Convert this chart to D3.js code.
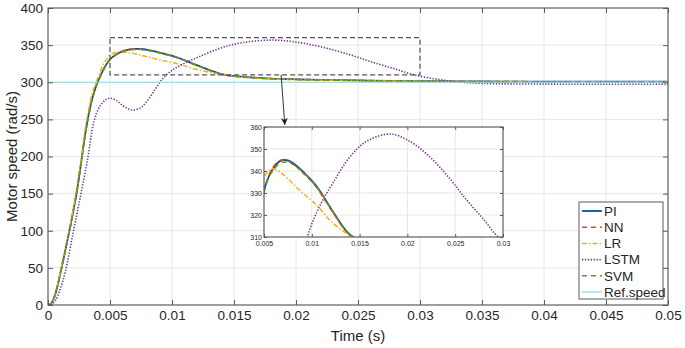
<!DOCTYPE html>
<html>
<head>
<meta charset="utf-8">
<script src="https://cdn.jsdelivr.net/npm/d3@7"></script>
<style>
    body { margin: 0; background: #fff; }
    text { font-family: "Liberation Sans", Arial, Helvetica, sans-serif; fill: #262626; }
</style>
</head>
<body>
<div id="chart"></div>
<script>
// time samples (s) shared by PI, NN, LR and SVM
var tFast = [0, 0.0002, 0.0004, 0.0006, 0.0008, 0.001, 0.0013, 0.0016, 0.0018, 0.002, 0.0023, 0.0025,
    0.0027, 0.003, 0.0033, 0.0036, 0.004, 0.0045, 0.005, 0.0055, 0.006, 0.0065, 0.007, 0.0075, 0.008,
    0.009, 0.0105, 0.012, 0.014, 0.016, 0.018, 0.02, 0.025, 0.03, 0.035, 0.04, 0.05];
var speedPI = [0, 1, 6, 15, 28, 43, 66, 90, 106, 123, 150, 172, 195, 230, 258, 280, 300, 318, 331,
    337.5, 341.5, 344, 345, 344.8, 343.7, 340, 333, 323, 311, 307, 305, 304, 302.5, 301.5, 301, 300.8, 300.7];
var speedNN = [0, 1, 6, 15, 28, 43, 66, 90, 106, 123, 150, 172, 195, 230, 258, 280, 300, 318, 331,
    338, 342, 344.5, 345, 344.5, 343.3, 339.5, 332.5, 322.5, 310.8, 307, 305, 304, 302.5, 301.5, 301, 300.8, 300.7];
var speedLR = [0, 1, 6, 16, 29, 45, 68, 92, 109, 126, 155, 177, 200, 237, 265, 287, 305, 325, 336.7,
    340.3, 341, 340, 338.5, 336.5, 334.3, 330.2, 324.5, 317.2, 310.5, 306.3, 304.3, 303.4, 302.2, 301.5, 301, 300.8, 300.7];
var speedSVM = [0, 1, 6, 15, 28, 43, 66, 90, 106, 123, 150, 172, 195, 230, 257, 279, 299, 317, 330,
    337, 340.5, 343, 344, 344, 343, 339.8, 332.8, 322.8, 310.8, 306.8, 304.8, 303.8, 302.4, 301.4, 301, 300.8, 300.7];

// LSTM has its own samples
var tLstm = [0, 0.0003, 0.0006, 0.001, 0.0014, 0.002, 0.0026, 0.0032, 0.0037, 0.0042, 0.0047, 0.0051,
    0.0056, 0.006, 0.0065, 0.0069, 0.0075, 0.008, 0.0087, 0.0093, 0.01, 0.011, 0.0122, 0.014, 0.0157,
    0.0182, 0.0202, 0.0223, 0.0244, 0.0262, 0.0279, 0.0295, 0.0316, 0.0327, 0.035, 0.04, 0.045, 0.05];
var speedLSTM = [0, 1, 6, 22, 45, 95, 145, 197, 247, 268, 277, 278.4, 274.5, 269, 264, 262.5, 266, 275,
    292, 306, 316, 325.5, 334.5, 346.5, 353.4, 356.8, 353.6, 346.6, 336.7, 326.8, 318.4, 310, 303.5, 301,
    298.5, 297.5, 297.3, 297.2];

// reference speed
var tRef = [0, 0.05];
var speedRef = [300, 300];

var seriesNames = ["PI", "NN", "LR", "LSTM", "SVM", "Ref.speed"];

// tick labels
var xTicks = [0, 0.005, 0.01, 0.015, 0.02, 0.025, 0.03, 0.035, 0.04, 0.045, 0.05];
var yTicks = [0, 50, 100, 150, 200, 250, 300, 350, 400];
var xTicksInset = [0.005, 0.01, 0.015, 0.02, 0.025, 0.03];
var yTicksInset = [310, 320, 330, 340, 350, 360];

// zoom window shown in the inset
var zoomX = [0.005, 0.03];
var zoomY = [310, 360];

function pairs(t, v) {
    return t.map(function (d, i) { return [d, v[i]]; });
}

var series = [
    { name: seriesNames[0], pts: pairs(tFast, speedPI), color: "#0b4ea2", dash: null, w: 1.8 },
    { name: seriesNames[1], pts: pairs(tFast, speedNN), color: "#d95319", dash: "5,4", w: 1.5 },
    { name: seriesNames[2], pts: pairs(tFast, speedLR), color: "#edb120", dash: "5,2,1.5,2", w: 1.5 },
    { name: seriesNames[3], pts: pairs(tLstm, speedLSTM), color: "#72308a", dash: "1.3,1.6", w: 1.6 },
    { name: seriesNames[4], pts: pairs(tFast, speedSVM), color: "#5e9e1c", dash: "5,4", w: 1.5 },
    { name: seriesNames[5], pts: pairs(tRef, speedRef), color: "#8fdbe3", dash: null, w: 1.2 }
];

var W = 685, H = 348;
var margin = { top: 8, right: 17, bottom: 43, left: 48 };

var svg = d3.select("#chart").append("svg")
    .attr("width", W)
    .attr("height", H);

var x = d3.scaleLinear().domain([0, 0.05]).range([margin.left, W - margin.right]);
var y = d3.scaleLinear().domain([0, 400]).range([H - margin.bottom, margin.top]);

function drawPanel(g, xs, ys, xt, yt, tick, font, padX, padY, clipId) {
    var x0 = xs.range()[0], x1 = xs.range()[1];
    var y0 = ys.range()[0], y1 = ys.range()[1];

    g.append("rect")
        .attr("x", x0).attr("y", y1)
        .attr("width", x1 - x0).attr("height", y0 - y1)
        .attr("fill", "#fff");

    // grid
    g.selectAll(".gx").data(xt).enter().append("line")
        .attr("x1", function (d) { return xs(d); }).attr("x2", function (d) { return xs(d); })
        .attr("y1", y0).attr("y2", y1)
        .attr("stroke", "#e6e6e6").attr("stroke-width", 1);
    g.selectAll(".gy").data(yt).enter().append("line")
        .attr("y1", function (d) { return ys(d); }).attr("y2", function (d) { return ys(d); })
        .attr("x1", x0).attr("x2", x1)
        .attr("stroke", "#e6e6e6").attr("stroke-width", 1);

    g.append("clipPath").attr("id", clipId)
        .append("rect")
        .attr("x", x0).attr("y", y1)
        .attr("width", x1 - x0).attr("height", y0 - y1);

    var line = d3.line()
        .x(function (d) { return xs(d[0]); })
        .y(function (d) { return ys(d[1]); })
        .curve(d3.curveCatmullRom.alpha(0.5));

    g.append("g").attr("clip-path", "url(#" + clipId + ")")
        .selectAll("path").data(series).enter().append("path")
        .attr("d", function (d) { return line(d.pts); })
        .attr("fill", "none")
        .attr("stroke", function (d) { return d.color; })
        .attr("stroke-width", function (d) { return d.w; })
        .attr("stroke-dasharray", function (d) { return d.dash; });

    // axes with inward ticks on all four sides
    var fmt = function (d) { return String(d); };
    var bottom = g.append("g").attr("transform", "translate(0," + y0 + ")")
        .call(d3.axisBottom(xs).tickValues(xt).tickFormat(fmt).tickSizeInner(-tick).tickSizeOuter(0).tickPadding(padX));
    var left = g.append("g").attr("transform", "translate(" + x0 + ",0)")
        .call(d3.axisLeft(ys).tickValues(yt).tickFormat(fmt).tickSizeInner(-tick).tickSizeOuter(0).tickPadding(padY));
    var top = g.append("g").attr("transform", "translate(0," + y1 + ")")
        .call(d3.axisTop(xs).tickValues(xt).tickFormat("").tickSizeInner(-tick).tickSizeOuter(0));
    var right = g.append("g").attr("transform", "translate(" + x1 + ",0)")
        .call(d3.axisRight(ys).tickValues(yt).tickFormat("").tickSizeInner(-tick).tickSizeOuter(0));

    [bottom, left, top, right].forEach(function (a) {
        a.select(".domain").remove();
        a.selectAll("line").attr("stroke", "#5a5a5a");
        a.selectAll("text")
            .style("font-size", font + "px")
            .style("font-family", "'Liberation Sans', Arial, sans-serif")
            .attr("fill", "#262626");
    });

    g.append("rect")
        .attr("x", x0).attr("y", y1)
        .attr("width", x1 - x0).attr("height", y0 - y1)
        .attr("fill", "none")
        .attr("stroke", "#5a5a5a")
        .attr("stroke-width", 1.1);
}

var main = svg.append("g");
drawPanel(main, x, y, xTicks, yTicks, 5, 13.5, 5, 5, "clipMain");

// dashed zoom box and arrow
svg.append("rect")
    .attr("x", x(zoomX[0])).attr("y", y(zoomY[1]))
    .attr("width", x(zoomX[1]) - x(zoomX[0]))
    .attr("height", y(zoomY[0]) - y(zoomY[1]))
    .attr("fill", "none")
    .attr("stroke", "#555")
    .attr("stroke-width", 1.2)
    .attr("stroke-dasharray", "5,3");

var xi = d3.scaleLinear().domain(zoomX).range([264, 503]);
var yi = d3.scaleLinear().domain(zoomY).range([237, 127]);

svg.append("defs").append("marker")
    .attr("id", "arrow")
    .attr("viewBox", "0 0 10 10")
    .attr("refX", 10).attr("refY", 5)
    .attr("markerWidth", 7).attr("markerHeight", 7)
    .attr("markerUnits", "userSpaceOnUse")
    .attr("orient", "auto")
    .append("path")
    .attr("d", "M0,0 L10,5 L0,10 L3,5 Z")
    .attr("fill", "#222");

svg.append("line")
    .attr("x1", x(0.0188)).attr("y1", y(zoomY[0]))
    .attr("x2", x(0.0191)).attr("y2", yi.range()[1] - 2)
    .attr("stroke", "#333")
    .attr("stroke-width", 1)
    .attr("marker-end", "url(#arrow)");

// inset
var inset = svg.append("g");
drawPanel(inset, xi, yi, xTicksInset, yTicksInset, 3, 7, 4, 2, "clipInset");

// axis titles
svg.append("text")
    .attr("transform", "translate(17," + ((margin.top + H - margin.bottom) / 2) + ") rotate(-90)")
    .attr("text-anchor", "middle")
    .style("font-size", "15px")
    .text("Motor speed (rad/s)");

svg.append("text")
    .attr("x", (margin.left + W - margin.right) / 2)
    .attr("y", 341)
    .attr("text-anchor", "middle")
    .style("font-size", "15px")
    .text("Time (s)");

// legend
var legend = svg.append("g").attr("transform", "translate(579,202)");
legend.append("rect")
    .attr("width", 84).attr("height", 97)
    .attr("fill", "#fff")
    .attr("stroke", "#5a5a5a")
    .attr("stroke-width", 1);

var rows = legend.selectAll(".row").data(series).enter().append("g")
    .attr("transform", function (d, i) { return "translate(0," + (9 + i * 16.2) + ")"; });
rows.append("line")
    .attr("x1", 3).attr("x2", 23)
    .attr("stroke", function (d) { return d.color; })
    .attr("stroke-width", function (d) { return d.w; })
    .attr("stroke-dasharray", function (d) { return d.dash; });
rows.append("text")
    .attr("x", 25).attr("dy", "0.36em")
    .style("font-size", "13.5px")
    .text(function (d) { return d.name; });
</script>
</body>
</html>
